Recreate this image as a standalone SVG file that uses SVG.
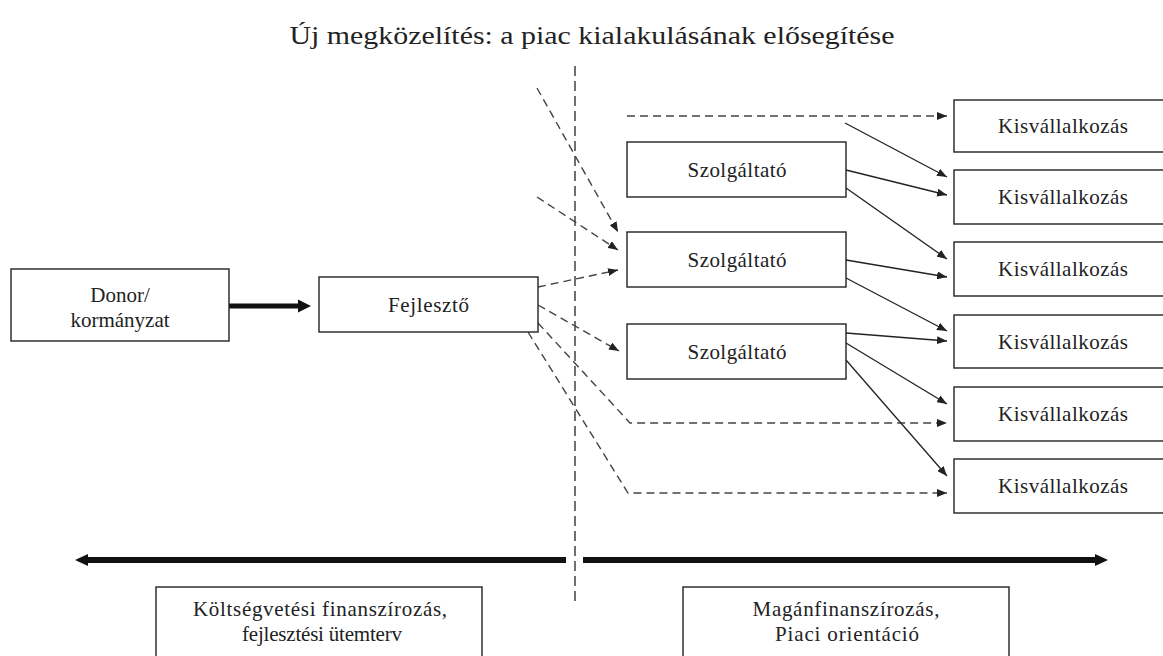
<svg xmlns="http://www.w3.org/2000/svg" width="1163" height="656" viewBox="0 0 1163 656">
<defs>
<style>
.box{fill:#fff;stroke:#222;stroke-width:1.4}
.t{font-family:"Liberation Serif","Times New Roman",serif;font-size:21px;fill:#222;text-anchor:middle}
.title{font-family:"Liberation Serif","Times New Roman",serif;font-size:26px;fill:#222;text-anchor:middle}
.dash{fill:none;stroke:#444;stroke-width:1.4;stroke-dasharray:8 5}
.solid{fill:none;stroke:#222;stroke-width:1.3}
</style>
<marker id="ah" markerUnits="userSpaceOnUse" markerWidth="10" markerHeight="8" viewBox="0 0 10 8" refX="10" refY="4" orient="auto">
<path d="M0,0 L10,4 L0,8 Z" fill="#222"/>
</marker>
</defs>
<rect width="1163" height="656" fill="#fff"/>
<text class="title" x="592" y="44" textLength="605" lengthAdjust="spacingAndGlyphs">Új megközelítés: a piac kialakulásának elősegítése</text>

<g id="connectors">
<line x1="575" y1="66" x2="575" y2="604" stroke="#333" stroke-width="1.4" stroke-dasharray="10 5"/>
<line x1="229" y1="306" x2="300" y2="306" stroke="#111" stroke-width="5"/>
<polygon points="298,299.5 311,306 298,312.5" fill="#111"/>
<line x1="86" y1="560" x2="566" y2="560" stroke="#111" stroke-width="6"/>
<polygon points="75,560 88,554 88,566" fill="#111"/>
<line x1="583" y1="560" x2="1097" y2="560" stroke="#111" stroke-width="6"/>
<polygon points="1108,560 1095,554 1095,566" fill="#111"/>
<path class="dash" d="M537,88 L618,232" marker-end="url(#ah)"/>
<path class="dash" d="M537,197 L618,250" marker-end="url(#ah)"/>
<path class="dash" d="M538,287 L618,270" marker-end="url(#ah)"/>
<path class="dash" d="M538,305 L619,351" marker-end="url(#ah)"/>
<path class="dash" d="M538,323 L630,423 L947,423" marker-end="url(#ah)"/>
<path class="dash" d="M528,332 L628,493 L947,493" marker-end="url(#ah)"/>
<path class="dash" d="M627,116 L947,116" marker-end="url(#ah)"/>
<path class="solid" d="M845,123 L947,177" marker-end="url(#ah)"/>
<path class="solid" d="M846,170 L947,195" marker-end="url(#ah)"/>
<path class="solid" d="M846,188 L947,259" marker-end="url(#ah)"/>
<path class="solid" d="M846,260 L947,277" marker-end="url(#ah)"/>
<path class="solid" d="M846,278 L947,331" marker-end="url(#ah)"/>
<path class="solid" d="M846,333 L947,341" marker-end="url(#ah)"/>
<path class="solid" d="M846,343 L947,404" marker-end="url(#ah)"/>
<path class="solid" d="M846,360 L947,476" marker-end="url(#ah)"/>
</g>

<g id="donor"><rect class="box" x="11" y="269" width="218" height="72"/>
<text class="t" x="120" y="302">Donor/</text><text class="t" x="120" y="327">kormányzat</text></g>
<g id="fejleszto"><rect class="box" x="319" y="277" width="219" height="55"/>
<text class="t" x="428.5" y="312" textLength="81">Fejlesztő</text></g>

<g id="szolg1"><rect class="box" x="627" y="142" width="219" height="55"/><text class="t" x="737" y="177" textLength="99">Szolgáltató</text></g>
<g id="szolg2"><rect class="box" x="627" y="232" width="219" height="55"/><text class="t" x="737" y="267" textLength="99">Szolgáltató</text></g>
<g id="szolg3"><rect class="box" x="627" y="324" width="219" height="55"/><text class="t" x="737" y="359" textLength="99">Szolgáltató</text></g>

<g id="kis1"><rect class="box" x="954" y="100" width="218" height="52"/><text class="t" x="1063" y="133" textLength="130">Kisvállalkozás</text></g>
<g id="kis2"><rect class="box" x="954" y="170" width="218" height="54"/><text class="t" x="1063" y="204" textLength="130">Kisvállalkozás</text></g>
<g id="kis3"><rect class="box" x="954" y="242" width="218" height="54"/><text class="t" x="1063" y="276" textLength="130">Kisvállalkozás</text></g>
<g id="kis4"><rect class="box" x="954" y="315" width="218" height="53"/><text class="t" x="1063" y="349" textLength="130">Kisvállalkozás</text></g>
<g id="kis5"><rect class="box" x="954" y="387" width="218" height="54"/><text class="t" x="1063" y="421" textLength="130">Kisvállalkozás</text></g>
<g id="kis6"><rect class="box" x="954" y="459" width="218" height="54"/><text class="t" x="1063" y="493" textLength="130">Kisvállalkozás</text></g>

<g id="koltseg"><rect class="box" x="156" y="587" width="326" height="80"/>
<text class="t" x="320" y="616" textLength="254">Költségvetési finanszírozás,</text>
<text class="t" x="322" y="641" textLength="160">fejlesztési ütemterv</text></g>
<g id="magan"><rect class="box" x="683" y="587" width="326" height="80"/>
<text class="t" x="846" y="616" textLength="187">Magánfinanszírozás,</text>
<text class="t" x="847" y="641" textLength="144">Piaci orientáció</text></g>
</svg>
